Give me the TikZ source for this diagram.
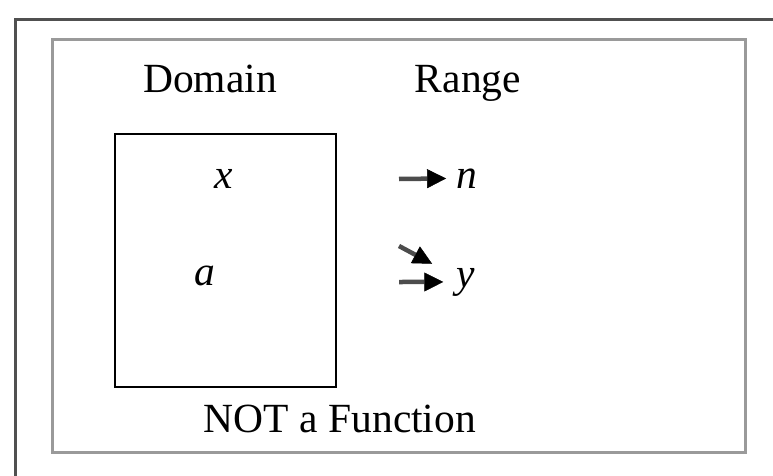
\documentclass[tikz,border=0pt]{standalone}
\usepackage{fontspec}
\setmainfont{Liberation Serif}
\usetikzlibrary{arrows.meta}
\definecolor{outerc}{HTML}{505050}
\definecolor{innerc}{HTML}{9A9A9A}
\begin{document}
\begin{tikzpicture}[x=1pt,y=-1pt,
  outerframe/.style={draw=outerc,line width=3pt},
  innerframe/.style={draw=innerc,line width=3pt},
  domainbox/.style={draw=black,line width=2pt,minimum width=221pt,minimum height=253pt,inner sep=0pt},
  lbl/.style={font=\fontsize{41.5}{44}\selectfont,anchor=base,inner sep=0pt},
  var/.style={font=\fontsize{41.5}{44}\selectfont\itshape,anchor=base},
  arr/.style={draw=black!70,line width=4.5pt,-{Triangle[length=19pt,width=19pt,color=black,line width=0.5pt]}}]
\useasboundingbox (0,0) rectangle (773,476);
\clip (0,0) rectangle (773,476);
\fill[white] (0,0) rectangle (773,476);
\draw[outerframe] (15,20) rectangle (800,510);
\draw[innerframe] (52,40) rectangle (745,452);
\node[domainbox] (dom) at (225.5,260.5) {};
\node[lbl] (domain) at (210,93) {Domain};
\node[lbl] (range) at (468,93) {Range};
\node[lbl] (notf) at (340,432) {NOT a Function};
\node[var] (x) at (224,188) {x};
\node[var] (a) at (205,285) {a};
\node[var] (n) at (467,188) {n};
\node[var] (y) at (466,287) {y};
\coordinate (t1) at (399,179);
\coordinate (t2) at (399,282);
\coordinate (t3) at (399,246);
\draw[arr,shorten >=7pt] (t1) -- (n);
\draw[arr,shorten >=10pt] (t2) -- (y);
\draw[arr,shorten >=24pt] (t3) -- (y);
\end{tikzpicture}
\end{document}
